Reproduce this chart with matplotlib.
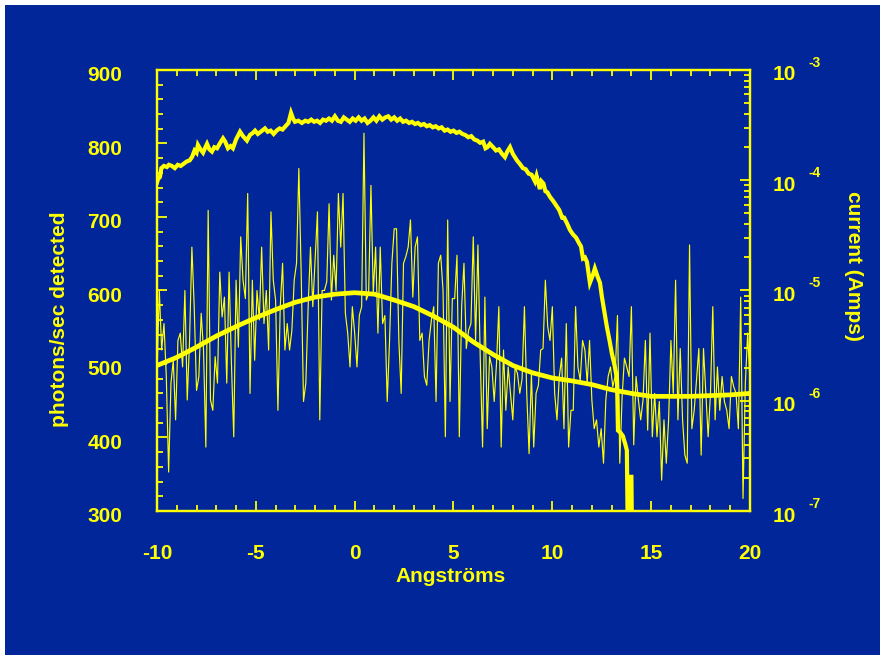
import numpy as np
import matplotlib
matplotlib.use("Agg")
import matplotlib.pyplot as plt
from matplotlib.patches import Rectangle
from matplotlib.ticker import MultipleLocator, LogLocator, NullFormatter
from matplotlib.font_manager import findfont, FontProperties
import matplotlib.transforms as mtransforms

# ---------------------------------------------------------------- data
# photon counts (photons/sec), evenly sampled from -10 to 20 Angstroms
photons = [
    487, 600, 519, 555, 483, 353, 474, 505, 424, 532, 542, 496, 600, 451, 532,
    659, 578, 464, 483, 569, 519, 387, 709, 451, 437, 510, 474, 625, 564, 591,
    474, 625, 501, 401, 614, 523, 673, 614, 589, 732, 460, 614,
    505, 600, 560, 659, 555, 600, 519, 707, 614, 587, 437, 578, 637, 519, 555,
    519, 546, 614, 637, 766, 623, 449, 474, 578, 659, 578, 641, 707, 424, 600,
    600, 612, 718, 587, 648, 600, 732, 659, 732, 569, 542,
    496, 578, 542, 496, 566, 578, 814, 587, 596, 743, 596, 659, 542, 659, 555,
    566, 449, 532, 637, 684, 684, 532, 460, 637, 646, 659, 696, 591, 659, 673,
    532, 542, 483, 471, 532, 560, 578, 449, 637, 648, 600, 401, 696,
    449, 589, 589, 648, 401, 578, 637, 521, 546, 555, 673, 532, 662, 508, 387,
    591, 412, 510, 496, 449, 501, 578, 387, 519, 437, 496, 460, 424, 496, 487,
    460, 480, 578, 460, 378, 487, 387, 460, 471, 519, 521, 614, 551, 532,
    578, 460, 424, 483, 508, 412, 555, 387, 437, 437, 578, 496, 478, 532, 519,
    474, 532, 451, 412, 424, 387, 412, 365, 451, 483, 496, 469, 483, 566, 365,
    455, 508, 496, 483, 578, 390, 483, 451, 424, 451, 532, 410, 542,
    401, 460, 401, 449, 342, 424, 365, 424, 532, 460, 614, 424, 521, 424, 376,
    365, 662, 412, 437, 478, 521, 376, 521, 460, 401, 460, 578, 424, 496, 437,
    483, 449, 437, 412, 483, 469, 460, 412, 591, 317, 474, 542, 474,
]
angstrom_start, angstrom_end = -10, 20

# smooth fit to the photon counts
fit_x = list(range(-10, 21))
fit_photons = [498, 509, 523, 538, 551, 563, 574, 584, 591, 595, 597, 595, 587,
               578, 565, 550, 530, 513, 498, 488, 481, 477, 472, 465, 460, 456,
               456, 456, 457, 458, 460]

# tunnelling current, log10(Amps)
current_x = [
    -10.00, -9.95, -9.85, -9.78, -9.65, -9.50, -9.40, -9.25, -9.10, -8.95,
    -8.80, -8.65, -8.50, -8.35, -8.23, -8.10, -8.00, -7.93, -7.80, -7.67,
    -7.55, -7.47, -7.35, -7.22, -7.10, -6.96, -6.80, -6.66, -6.55, -6.41,
    -6.28, -6.16, -6.00, -5.80, -5.65, -5.45, -5.30, -5.15, -5.04, -4.90,
    -4.75, -4.54, -4.40, -4.25, -4.10, -3.95, -3.80, -3.65, -3.50, -3.35,
    -3.22, -3.12, -3.02, -2.85, -2.67, -2.50, -2.35, -2.20, -2.05, -1.90,
    -1.75, -1.60, -1.45, -1.30, -1.15, -1.00, -0.85, -0.70, -0.55, -0.40,
    -0.25, -0.10, 0.05, 0.20, 0.35, 0.50, 0.65, 0.80, 0.95, 1.10,
    1.25, 1.40, 1.55, 1.70, 1.85, 2.00, 2.15, 2.30, 2.45, 2.60,
    2.75, 2.90, 3.05, 3.20, 3.35, 3.50, 3.65, 3.80, 3.95, 4.10,
    4.25, 4.40, 4.55, 4.70, 4.85, 5.00, 5.15, 5.30, 5.45, 5.60,
    5.75, 5.90, 6.05, 6.20, 6.35, 6.50, 6.62, 6.72, 6.84, 7.00,
    7.15, 7.30, 7.45, 7.60, 7.72, 7.86, 8.00, 8.21, 8.35, 8.51,
    8.65, 8.80, 8.95, 9.12, 9.20, 9.30, 9.37, 9.45, 9.55, 9.65,
    9.75, 9.88, 10.05, 10.20, 10.35, 10.50, 10.60, 10.74, 10.89, 11.04,
    11.20, 11.35, 11.45, 11.55, 11.65, 11.75, 11.90, 12.05, 12.15, 12.30,
    12.41, 12.51, 12.64, 12.76, 12.90, 13.01, 13.15, 13.27, 13.32, 13.45,
    13.57, 13.70, 13.77, 13.84, 13.90, 14.00, 14.05,
]
current_log10 = [
    -4.02, -3.99, -3.97, -3.89, -3.87, -3.88, -3.86, -3.87, -3.89, -3.86,
    -3.87, -3.85, -3.83, -3.82, -3.79, -3.73, -3.75, -3.68, -3.72, -3.75,
    -3.70, -3.67, -3.72, -3.74, -3.70, -3.71, -3.66, -3.62, -3.65, -3.71,
    -3.69, -3.71, -3.63, -3.56, -3.60, -3.64, -3.59, -3.57, -3.55, -3.58,
    -3.56, -3.53, -3.56, -3.55, -3.58, -3.55, -3.53, -3.54, -3.51, -3.48,
    -3.39, -3.44, -3.47, -3.46, -3.48, -3.46, -3.47, -3.45, -3.47, -3.46,
    -3.48, -3.45, -3.46, -3.44, -3.46, -3.42, -3.46, -3.47, -3.43, -3.45,
    -3.47, -3.44, -3.46, -3.43, -3.46, -3.44, -3.48, -3.46, -3.43, -3.46,
    -3.42, -3.45, -3.43, -3.42, -3.45, -3.43, -3.46, -3.44, -3.47, -3.46,
    -3.48, -3.47, -3.49, -3.48, -3.50, -3.49, -3.51, -3.50, -3.52, -3.51,
    -3.53, -3.52, -3.55, -3.54, -3.56, -3.55, -3.57, -3.56, -3.58, -3.59,
    -3.61, -3.60, -3.63, -3.64, -3.66, -3.65, -3.71, -3.70, -3.67, -3.70,
    -3.73, -3.72, -3.76, -3.79, -3.74, -3.70, -3.76, -3.82, -3.85, -3.89,
    -3.90, -3.94, -3.95, -4.01, -3.96, -4.03, -4.08, -4.01, -4.03, -4.10,
    -4.11, -4.15, -4.19, -4.23, -4.27, -4.34, -4.34, -4.39, -4.45, -4.49,
    -4.52, -4.57, -4.60, -4.71, -4.70, -4.74, -4.93, -4.86, -4.80, -4.88,
    -4.93, -5.06, -5.20, -5.33, -5.46, -5.57, -5.68, -5.80, -6.27, -6.29,
    -6.32, -6.40, -6.45, -7.60, -6.69, -6.69, -7.60,
]

photon_ticks = [300, 400, 500, 600, 700, 800, 900]
angstrom_ticks = [-10, -5, 0, 5, 10, 15, 20]
current_decades = [-7, -6, -5, -4, -3]

# ---------------------------------------------------------------- style
BLUE = "#00269a"
YEL = "#ffff00"


def pick_font(names):
    for n in names:
        try:
            findfont(FontProperties(family=n), fallback_to_default=False)
            return n
        except Exception:
            continue
    return "DejaVu Sans"


FONT = pick_font(["Liberation Sans", "DejaVu Sans"])
plt.rcParams["font.family"] = [FONT, "DejaVu Sans"]
plt.rcParams["font.weight"] = "bold"
plt.rcParams["axes.unicode_minus"] = False

W, H = 884, 660
fig = plt.figure(figsize=(W / 100, H / 100), dpi=100, facecolor="white")
fig.patches.append(Rectangle((5 / W, 5 / H), 875 / W, 650 / H,
                             transform=fig.transFigure, facecolor=BLUE,
                             edgecolor="none", zorder=-5))

ax = fig.add_axes([157 / W, 149 / H, 593 / W, 441 / H])
ax.set_facecolor(BLUE)

x_photons = np.linspace(angstrom_start, angstrom_end, len(photons))
ax.plot(x_photons, photons, color=YEL, lw=0.85, zorder=2)
ax.plot(fit_x, fit_photons, color=YEL, lw=3.4, solid_joinstyle="round",
        solid_capstyle="butt", zorder=3)

ax.set_xlim(angstrom_start, angstrom_end)
ax.set_ylim(photon_ticks[0], photon_ticks[-1])
ax.set_xticks(angstrom_ticks)
ax.set_yticks(photon_ticks)
ax.xaxis.set_minor_locator(MultipleLocator(1))
ax.yaxis.set_minor_locator(MultipleLocator(20))
ax.tick_params(which="both", direction="in", top=True, bottom=True,
               left=True, right=False, color=YEL, labelcolor=YEL,
               width=1.3, labelsize=15)
ax.tick_params(which="major", length=7.5)
ax.tick_params(which="minor", length=4.3)
ax.tick_params(axis="x", pad=24)
ax.tick_params(axis="y", pad=25)
for s in ax.spines.values():
    s.set_color(YEL)
    s.set_linewidth(1.6)

# shift the photon tick labels slightly below their ticks
shift = mtransforms.ScaledTranslation(0, -4 / 100, fig.dpi_scale_trans)
for t in ax.yaxis.get_major_ticks():
    t.label1.set_transform(t.label1.get_transform() + shift)

ax2 = ax.twinx()
ax2.set_yscale("log")
ax2.set_ylim(10.0 ** current_decades[0], 10.0 ** current_decades[-1])
ax2.plot(current_x, 10.0 ** np.array(current_log10), color=YEL, lw=3.0,
         solid_joinstyle="miter", zorder=4)
ax2.yaxis.set_major_locator(LogLocator(base=10, numticks=10))
ax2.yaxis.set_minor_locator(LogLocator(base=10, subs=np.arange(2, 10), numticks=20))
ax2.yaxis.set_minor_formatter(NullFormatter())
ax2.tick_params(which="both", direction="in", right=True, left=False,
                labelright=False, color=YEL, width=1.3)
ax2.tick_params(which="major", length=7.5)
ax2.tick_params(which="minor", length=4.3)
for s in ax2.spines.values():
    s.set_color(YEL)
    s.set_linewidth(1.6)

for e in current_decades:
    ax2.annotate("10", xy=(1, 10.0 ** e), xycoords=("axes fraction", "data"),
                 xytext=(23, -5), textcoords="offset pixels", ha="left",
                 va="center", color=YEL, fontsize=15, fontweight="bold",
                 annotation_clip=False)
    ax2.annotate(f"{e}", xy=(1, 10.0 ** e), xycoords=("axes fraction", "data"),
                 xytext=(58, 7), textcoords="offset pixels", ha="left",
                 va="center", color=YEL, fontsize=10, fontweight="bold",
                 annotation_clip=False)

fig.text(451 / W, 1 - 577 / H, "Angströms", ha="center", va="center",
         color=YEL, fontsize=15, fontweight="bold")
fig.text(60 / W, 1 - 319 / H, "photons/sec detected", ha="center",
         va="center", rotation=90, color=YEL, fontsize=15, fontweight="bold")
fig.text(853 / W, 1 - 266 / H, "current (Amps)", ha="center", va="center",
         rotation=270, color=YEL, fontsize=15, fontweight="bold")

fig.savefig("out.png", dpi=100, facecolor="white")
